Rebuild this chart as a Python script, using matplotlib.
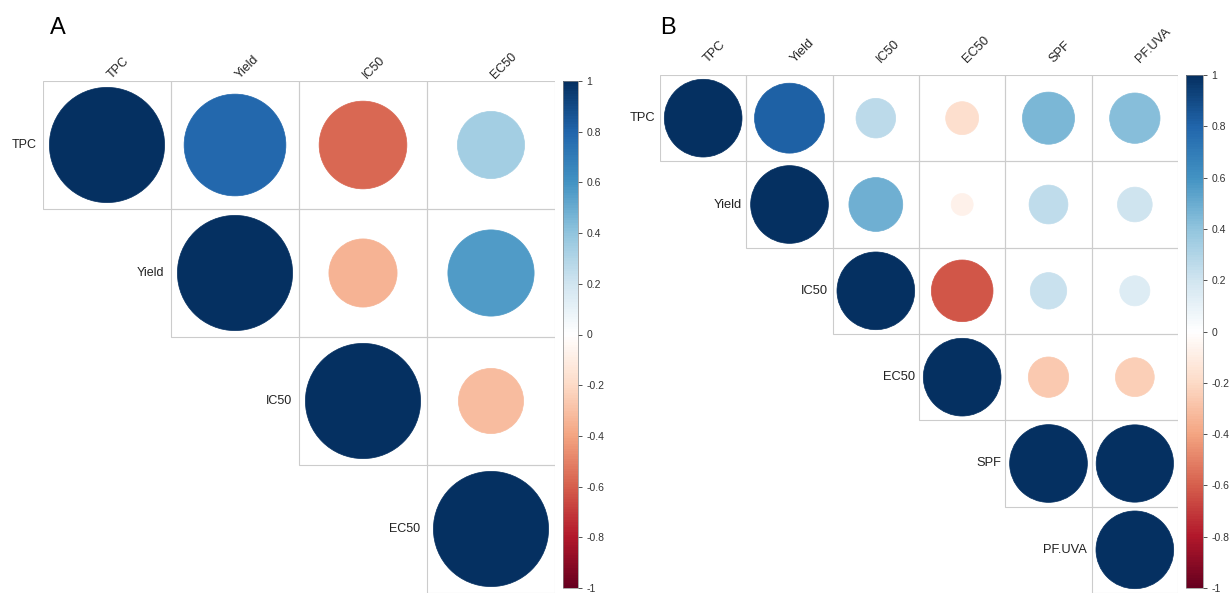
import numpy as np
import matplotlib
matplotlib.use("Agg")
import matplotlib.pyplot as plt
from matplotlib.colors import LinearSegmentedColormap, Normalize
from matplotlib.patches import Circle, Rectangle
from matplotlib.cm import ScalarMappable

plt.rcParams['font.family'] = ['Liberation Sans', 'DejaVu Sans']

# Panel A: upper triangle of the correlation matrix
vars_a = ["TPC", "Yield", "IC50", "EC50"]
corr_a = np.array([
    [1.00, 0.78, -0.58, 0.34],
    [0.78, 1.00, -0.35, 0.56],
    [-0.58, -0.35, 1.00, -0.32],
    [0.34, 0.56, -0.32, 1.00],
])

# Panel B
vars_b = ["TPC", "Yield", "IC50", "EC50", "SPF", "PF.UVA"]
corr_b = np.array([
    [1.00, 0.81, 0.26, -0.18, 0.45, 0.42],
    [0.81, 1.00, 0.48, -0.08, 0.25, 0.20],
    [0.26, 0.48, 1.00, -0.63, 0.22, 0.15],
    [-0.18, -0.08, -0.63, 1.00, -0.27, -0.25],
    [0.45, 0.25, 0.22, -0.27, 1.00, 0.99],
    [0.42, 0.20, 0.15, -0.25, 0.99, 1.00],
])

cbar_ticks = [-1, -0.8, -0.6, -0.4, -0.2, 0, 0.2, 0.4, 0.6, 0.8, 1]
cbar_labels = ["-1", "-0.8", "-0.6", "-0.4", "-0.2", "0", "0.2", "0.4", "0.6", "0.8", "1"]

# corrplot COL2('RdBu') palette
rdbu = ["#67001F", "#B2182B", "#D6604D", "#F4A582", "#FDDBC7", "#FFFFFF",
        "#D1E5F0", "#92C5DE", "#4393C3", "#2166AC", "#053061"]
cmap = LinearSegmentedColormap.from_list("corr_rdbu", rdbu, N=200)
norm = Normalize(-1, 1)

W, H = 1231, 595
fig = plt.figure(figsize=(W / 100, H / 100), dpi=100)


def px_axes(x0, y0, x1, y1):
    # axes from pixel box (top-left origin)
    return fig.add_axes([x0 / W, 1 - y1 / H, (x1 - x0) / W, (y1 - y0) / H])


def corr_panel(box, cbox, names, corr, fs, lab_dx, lab_dy):
    n = len(names)
    ax = px_axes(*box)
    ax.set_xlim(0, n)
    ax.set_ylim(n, 0)
    ax.axis("off")
    for i in range(n):
        for j in range(i, n):
            ax.add_patch(Rectangle((j, i), 1, 1, fill=False, ec="#cccccc", lw=0.8))
            r = corr[i, j]
            col = cmap(norm(r))
            ax.add_patch(Circle((j + 0.5, i + 0.5), 0.45 * np.sqrt(abs(r)),
                                fc=col, ec=col, lw=0.5))
    for k, name in enumerate(names):
        ax.text(k + lab_dx, lab_dy, name, rotation=45, rotation_mode="anchor",
                ha="left", va="bottom", fontsize=fs, color="#222222", clip_on=False)
        ax.text(k - 0.05, k + 0.5, name, ha="right", va="center",
                fontsize=fs, color="#222222", clip_on=False)

    cax = px_axes(*cbox)
    cb = fig.colorbar(ScalarMappable(norm=norm, cmap=cmap), cax=cax)
    cb.set_ticks(cbar_ticks)
    cb.set_ticklabels(cbar_labels)
    cb.outline.set_linewidth(0.5)
    cb.outline.set_edgecolor("#888888")
    cax.tick_params(labelsize=7.5, length=3, width=0.6, colors="#333333", pad=3)
    return ax


corr_panel((43, 81, 555, 593), (563, 81, 578, 588), vars_a, corr_a, 9, 0.55, 0.0)
corr_panel((660, 75, 1178, 593), (1186, 75, 1203, 588), vars_b, corr_b, 9.3, 0.58, -0.12)

fig.text(50 / W, 1 - 28 / H, "A", fontsize=17, ha="left", va="center")
fig.text(660 / W, 1 - 28 / H, "B", fontsize=17, ha="left", va="center")

fig.savefig("out.png", dpi=100, facecolor="white")
